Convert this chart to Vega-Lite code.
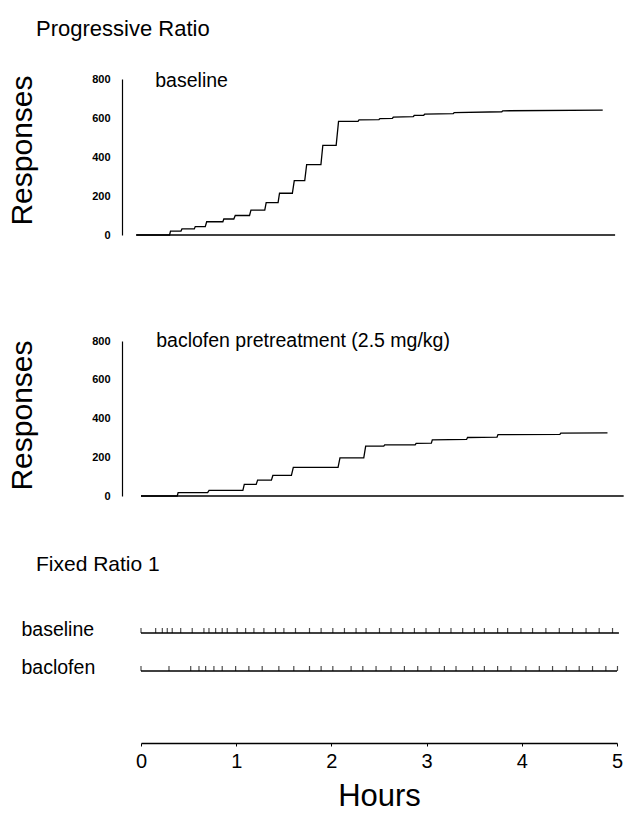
{
  "$schema": "https://vega.github.io/schema/vega-lite/v6.json",
  "background": "white",
  "padding": {"left": 7, "top": 17, "right": 5, "bottom": 5},
  "config": {
    "view": {"stroke": null},
    "font": "Liberation Sans",
    "axis": {"grid": false, "labelOverlap": false, "labelColor": "black", "titleColor": "black", "domainColor": "black", "tickColor": "black"},
    "title": {"color": "black"}
  },
  "bounds": "flush",
  "spacing": 106,
  "datasets": {
    "pr_baseline": [
      {"trace": "record", "hours": -0.05, "responses": 0},
      {"trace": "record", "hours": 0.30, "responses": 0},
      {"trace": "record", "hours": 0.31, "responses": 20},
      {"trace": "record", "hours": 0.42, "responses": 20},
      {"trace": "record", "hours": 0.43, "responses": 31},
      {"trace": "record", "hours": 0.56, "responses": 31},
      {"trace": "record", "hours": 0.57, "responses": 43},
      {"trace": "record", "hours": 0.675, "responses": 43},
      {"trace": "record", "hours": 0.69, "responses": 68},
      {"trace": "record", "hours": 0.86, "responses": 68},
      {"trace": "record", "hours": 0.87, "responses": 82},
      {"trace": "record", "hours": 0.975, "responses": 82},
      {"trace": "record", "hours": 0.99, "responses": 100},
      {"trace": "record", "hours": 1.14, "responses": 100},
      {"trace": "record", "hours": 1.155, "responses": 128},
      {"trace": "record", "hours": 1.30, "responses": 128},
      {"trace": "record", "hours": 1.315, "responses": 166},
      {"trace": "record", "hours": 1.44, "responses": 166},
      {"trace": "record", "hours": 1.455, "responses": 214},
      {"trace": "record", "hours": 1.59, "responses": 214},
      {"trace": "record", "hours": 1.61, "responses": 279},
      {"trace": "record", "hours": 1.72, "responses": 279},
      {"trace": "record", "hours": 1.74, "responses": 361},
      {"trace": "record", "hours": 1.89, "responses": 361},
      {"trace": "record", "hours": 1.91, "responses": 460},
      {"trace": "record", "hours": 2.05, "responses": 460},
      {"trace": "record", "hours": 2.075, "responses": 583},
      {"trace": "record", "hours": 2.28, "responses": 583},
      {"trace": "record", "hours": 2.29, "responses": 590},
      {"trace": "record", "hours": 2.50, "responses": 592},
      {"trace": "record", "hours": 2.51, "responses": 597},
      {"trace": "record", "hours": 2.64, "responses": 598},
      {"trace": "record", "hours": 2.65, "responses": 604},
      {"trace": "record", "hours": 2.86, "responses": 607},
      {"trace": "record", "hours": 2.87, "responses": 613},
      {"trace": "record", "hours": 2.97, "responses": 614},
      {"trace": "record", "hours": 2.98, "responses": 620},
      {"trace": "record", "hours": 3.28, "responses": 622},
      {"trace": "record", "hours": 3.29, "responses": 628},
      {"trace": "record", "hours": 3.79, "responses": 632},
      {"trace": "record", "hours": 3.80, "responses": 637},
      {"trace": "record", "hours": 4.85, "responses": 640},
      {"trace": "event", "hours": -0.05, "responses": 0},
      {"trace": "event", "hours": 4.98, "responses": 0}
    ],
    "pr_baclofen": [
      {"trace": "record", "hours": 0, "responses": 0},
      {"trace": "record", "hours": 0.38, "responses": 0},
      {"trace": "record", "hours": 0.39, "responses": 17},
      {"trace": "record", "hours": 0.70, "responses": 17},
      {"trace": "record", "hours": 0.715, "responses": 29},
      {"trace": "record", "hours": 1.07, "responses": 29},
      {"trace": "record", "hours": 1.085, "responses": 60},
      {"trace": "record", "hours": 1.21, "responses": 60},
      {"trace": "record", "hours": 1.225, "responses": 82},
      {"trace": "record", "hours": 1.37, "responses": 82},
      {"trace": "record", "hours": 1.385, "responses": 106},
      {"trace": "record", "hours": 1.58, "responses": 106},
      {"trace": "record", "hours": 1.60, "responses": 148},
      {"trace": "record", "hours": 2.07, "responses": 148},
      {"trace": "record", "hours": 2.09, "responses": 197},
      {"trace": "record", "hours": 2.34, "responses": 197},
      {"trace": "record", "hours": 2.36, "responses": 257},
      {"trace": "record", "hours": 2.55, "responses": 257},
      {"trace": "record", "hours": 2.56, "responses": 264},
      {"trace": "record", "hours": 2.88, "responses": 264},
      {"trace": "record", "hours": 2.89, "responses": 272},
      {"trace": "record", "hours": 3.05, "responses": 273},
      {"trace": "record", "hours": 3.06, "responses": 290},
      {"trace": "record", "hours": 3.42, "responses": 292},
      {"trace": "record", "hours": 3.43, "responses": 302},
      {"trace": "record", "hours": 3.74, "responses": 304},
      {"trace": "record", "hours": 3.75, "responses": 317},
      {"trace": "record", "hours": 4.40, "responses": 318},
      {"trace": "record", "hours": 4.41, "responses": 325},
      {"trace": "record", "hours": 4.90, "responses": 326},
      {"trace": "event", "hours": 0, "responses": 0},
      {"trace": "event", "hours": 5.07, "responses": 0}
    ],
    "fr_lines": [
      {"session": "baseline", "hours": 0},
      {"session": "baseline", "hours": 5.02},
      {"session": "baclofen", "hours": 0},
      {"session": "baclofen", "hours": 5.0}
    ],
    "fr_events": [
      {"session": "baseline", "hours": 0},
      {"session": "baseline", "hours": 0.154},
      {"session": "baseline", "hours": 0.224},
      {"session": "baseline", "hours": 0.276},
      {"session": "baseline", "hours": 0.328},
      {"session": "baseline", "hours": 0.417},
      {"session": "baseline", "hours": 0.538},
      {"session": "baseline", "hours": 0.661},
      {"session": "baseline", "hours": 0.714},
      {"session": "baseline", "hours": 0.784},
      {"session": "baseline", "hours": 0.853},
      {"session": "baseline", "hours": 0.906},
      {"session": "baseline", "hours": 1.010},
      {"session": "baseline", "hours": 1.099},
      {"session": "baseline", "hours": 1.186},
      {"session": "baseline", "hours": 1.291},
      {"session": "baseline", "hours": 1.413},
      {"session": "baseline", "hours": 1.501},
      {"session": "baseline", "hours": 1.623},
      {"session": "baseline", "hours": 1.770},
      {"session": "baseline", "hours": 1.892},
      {"session": "baseline", "hours": 2.015},
      {"session": "baseline", "hours": 2.137},
      {"session": "baseline", "hours": 2.259},
      {"session": "baseline", "hours": 2.364},
      {"session": "baseline", "hours": 2.505},
      {"session": "baseline", "hours": 2.626},
      {"session": "baseline", "hours": 2.749},
      {"session": "baseline", "hours": 2.872},
      {"session": "baseline", "hours": 2.994},
      {"session": "baseline", "hours": 3.134},
      {"session": "baseline", "hours": 3.256},
      {"session": "baseline", "hours": 3.379},
      {"session": "baseline", "hours": 3.502},
      {"session": "baseline", "hours": 3.607},
      {"session": "baseline", "hours": 3.746},
      {"session": "baseline", "hours": 3.851},
      {"session": "baseline", "hours": 3.991},
      {"session": "baseline", "hours": 4.113},
      {"session": "baseline", "hours": 4.253},
      {"session": "baseline", "hours": 4.394},
      {"session": "baseline", "hours": 4.533},
      {"session": "baseline", "hours": 4.675},
      {"session": "baseline", "hours": 4.813},
      {"session": "baseline", "hours": 4.953},
      {"session": "baclofen", "hours": 0},
      {"session": "baclofen", "hours": 0.294},
      {"session": "baclofen", "hours": 0.522},
      {"session": "baclofen", "hours": 0.609},
      {"session": "baclofen", "hours": 0.679},
      {"session": "baclofen", "hours": 0.766},
      {"session": "baclofen", "hours": 0.853},
      {"session": "baclofen", "hours": 0.994},
      {"session": "baclofen", "hours": 1.133},
      {"session": "baclofen", "hours": 1.273},
      {"session": "baclofen", "hours": 1.448},
      {"session": "baclofen", "hours": 1.605},
      {"session": "baclofen", "hours": 1.770},
      {"session": "baclofen", "hours": 1.892},
      {"session": "baclofen", "hours": 2.015},
      {"session": "baclofen", "hours": 2.207},
      {"session": "baclofen", "hours": 2.330},
      {"session": "baclofen", "hours": 2.469},
      {"session": "baclofen", "hours": 2.626},
      {"session": "baclofen", "hours": 2.767},
      {"session": "baclofen", "hours": 2.907},
      {"session": "baclofen", "hours": 3.046},
      {"session": "baclofen", "hours": 3.187},
      {"session": "baclofen", "hours": 3.309},
      {"session": "baclofen", "hours": 3.484},
      {"session": "baclofen", "hours": 3.607},
      {"session": "baclofen", "hours": 3.746},
      {"session": "baclofen", "hours": 3.886},
      {"session": "baclofen", "hours": 4.043},
      {"session": "baclofen", "hours": 4.184},
      {"session": "baclofen", "hours": 4.323},
      {"session": "baclofen", "hours": 4.467},
      {"session": "baclofen", "hours": 4.603},
      {"session": "baclofen", "hours": 4.743},
      {"session": "baclofen", "hours": 4.883},
      {"session": "baclofen", "hours": 5.005}
    ]
  },
  "vconcat": [
    {
      "width": 506,
      "height": 156,
      "title": {"text": "Progressive Ratio", "anchor": "start", "frame": "group", "dx": -86, "offset": 30, "fontSize": 22, "fontWeight": "normal"},
      "layer": [
        {
          "data": {"name": "pr_baseline"},
          "mark": {"type": "line", "color": "black", "strokeWidth": 1.3},
          "encoding": {
            "x": {"field": "hours", "type": "quantitative", "scale": {"domain": [0, 5], "range": [19, 495]}, "axis": null},
            "y": {"field": "responses", "type": "quantitative", "scale": {"domain": [0, 800], "nice": false},
                  "axis": {"values": [0, 200, 400, 600, 800], "tickCount": 5, "labelOverlap": false, "labelSeparation": 0, "title": "Responses", "titleFontSize": 30, "titleFontWeight": "normal", "titlePadding": 54, "titleY": 71, "labelFontSize": 11, "labelFontWeight": "bold", "ticks": false, "labelPadding": 12, "domainWidth": 1.2}},
            "detail": {"field": "trace"}
          }
        },
        {
          "data": {"values": [{"label": "baseline", "hours": 0.15, "responses": 790}]},
          "mark": {"type": "text", "align": "left", "baseline": "middle", "fontSize": 19.5, "color": "black"},
          "encoding": {
            "x": {"field": "hours", "type": "quantitative"},
            "y": {"field": "responses", "type": "quantitative"},
            "text": {"field": "label"}
          }
        }
      ]
    },
    {
      "width": 506,
      "height": 155,
      "layer": [
        {
          "data": {"name": "pr_baclofen"},
          "mark": {"type": "line", "color": "black", "strokeWidth": 1.3},
          "encoding": {
            "x": {"field": "hours", "type": "quantitative", "scale": {"domain": [0, 5], "range": [19, 495]}, "axis": null},
            "y": {"field": "responses", "type": "quantitative", "scale": {"domain": [0, 800], "nice": false},
                  "axis": {"values": [0, 200, 400, 600, 800], "tickCount": 5, "labelOverlap": false, "labelSeparation": 0, "title": "Responses", "titleFontSize": 30, "titleFontWeight": "normal", "titlePadding": 54, "titleY": 74, "labelFontSize": 11, "labelFontWeight": "bold", "ticks": false, "labelPadding": 12, "domainWidth": 1.2}},
            "detail": {"field": "trace"}
          }
        },
        {
          "data": {"values": [{"label": "baclofen pretreatment (2.5 mg/kg)", "hours": 0.16, "responses": 800}]},
          "mark": {"type": "text", "align": "left", "baseline": "middle", "fontSize": 19.5, "color": "black"},
          "encoding": {
            "x": {"field": "hours", "type": "quantitative"},
            "y": {"field": "responses", "type": "quantitative"},
            "text": {"field": "label"}
          }
        }
      ]
    },
    {
      "width": 506,
      "height": 141,
      "title": {"text": "Fixed Ratio 1", "anchor": "start", "frame": "group", "dx": -86, "offset": 27, "fontSize": 21, "fontWeight": "normal"},
      "layer": [
        {
          "data": {"name": "fr_lines"},
          "mark": {"type": "line", "color": "black", "strokeWidth": 1.3},
          "encoding": {
            "x": {"field": "hours", "type": "quantitative", "scale": {"domain": [0, 5], "range": [19, 495]},
                  "axis": {"values": [0, 1, 2, 3, 4, 5], "format": "d", "title": "Hours", "titleFontSize": 31, "titleFontWeight": "normal", "titlePadding": 10, "labelFontSize": 20, "labelPadding": 5, "tickSize": 3, "domainWidth": 1.3, "labelFlush": false}},
            "y": {"field": "session", "type": "nominal", "scale": {"type": "point", "padding": 0, "domain": ["baseline", "baclofen"], "range": [31, 69]},
                  "axis": {"title": null, "domain": false, "ticks": false, "labelAlign": "left", "labelPadding": 101, "labelFontSize": 19.5, "labelBaseline": "middle", "labelOffset": -4}},
            "detail": {"field": "session"}
          }
        },
        {
          "data": {"name": "fr_events"},
          "mark": {"type": "tick", "color": "black", "thickness": 1.2, "size": 5, "yOffset": -2.5},
          "encoding": {
            "x": {"field": "hours", "type": "quantitative"},
            "y": {"field": "session", "type": "nominal"}
          }
        }
      ]
    }
  ]
}
